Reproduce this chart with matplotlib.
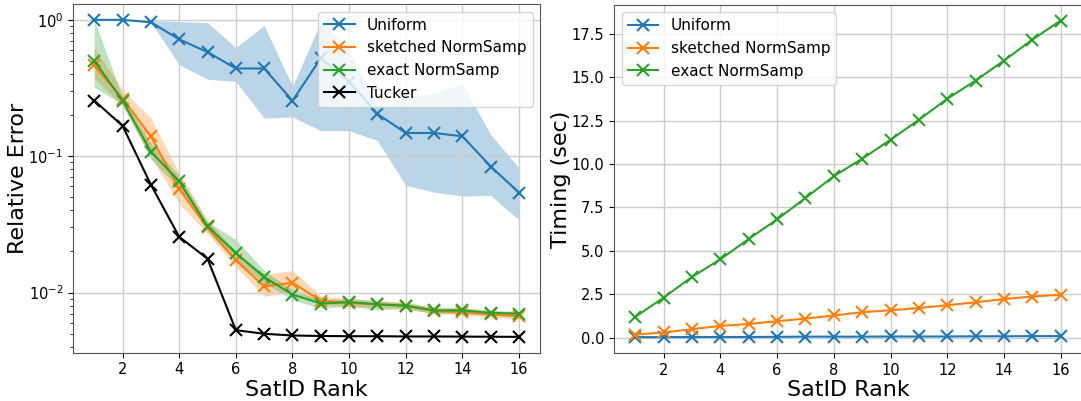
import numpy as np
import matplotlib
matplotlib.use('Agg')
import matplotlib.pyplot as plt

rank = np.arange(1, 17)

# relative error (left panel), mean and band
uniform_err = [1.0, 1.0, 0.96, 0.72, 0.58, 0.44, 0.44, 0.255, 0.524, 0.353, 0.204, 0.148, 0.148, 0.14, 0.084, 0.054]
uniform_lo = [1.0, 1.0, 0.96, 0.468, 0.367, 0.353, 0.19, 0.194, 0.154, 0.154, 0.13, 0.061, 0.0545, 0.051, 0.0515, 0.034]
uniform_hi = [1.0, 1.0, 0.99, 0.97, 0.955, 0.627, 0.91, 0.325, 0.97, 0.6, 0.235, 0.265, 0.29, 0.34, 0.144, 0.082]

sketched_err = [0.463, 0.264, 0.14, 0.0575, 0.030, 0.0172, 0.0111, 0.0118, 0.00873, 0.0084, 0.00817, 0.0080, 0.0073, 0.00718, 0.0069, 0.0067]
sketched_lo = [0.374, 0.232, 0.099, 0.045, 0.027, 0.0155, 0.0094, 0.0100, 0.0082, 0.0079, 0.0078, 0.0076, 0.0070, 0.0069, 0.0066, 0.0064]
sketched_hi = [0.62, 0.307, 0.19, 0.075, 0.034, 0.020, 0.0136, 0.0145, 0.0094, 0.0090, 0.0087, 0.0085, 0.0077, 0.0076, 0.0072, 0.0070]

exact_err = [0.503, 0.255, 0.108, 0.0654, 0.0306, 0.0195, 0.0130, 0.00967, 0.0083, 0.0085, 0.0082, 0.0080, 0.0074, 0.0074, 0.0071, 0.0070]
exact_lo = [0.32, 0.24, 0.095, 0.058, 0.028, 0.0169, 0.0118, 0.0088, 0.0077, 0.0079, 0.0075, 0.0076, 0.0070, 0.0070, 0.0068, 0.0067]
exact_hi = [1.0, 0.27, 0.125, 0.072, 0.033, 0.0245, 0.0145, 0.0105, 0.0088, 0.0091, 0.0087, 0.0084, 0.0078, 0.0078, 0.0074, 0.0073]

tucker_err = [0.256, 0.167, 0.0618, 0.0256, 0.0177, 0.0053, 0.00498, 0.00484, 0.0048, 0.00478, 0.00478, 0.00476, 0.00476, 0.00475, 0.00474, 0.00473]

# timing (right panel)
uniform_time = [0.02, 0.02, 0.03, 0.03, 0.03, 0.04, 0.05, 0.05, 0.05, 0.06, 0.06, 0.06, 0.07, 0.07, 0.08, 0.08]
sketched_time = [0.17, 0.29, 0.48, 0.67, 0.78, 0.94, 1.09, 1.27, 1.46, 1.57, 1.70, 1.86, 2.03, 2.22, 2.36, 2.47]
exact_time = [1.19, 2.30, 3.49, 4.51, 5.68, 6.81, 8.04, 9.30, 10.3, 11.4, 12.55, 13.76, 14.81, 15.96, 17.17, 18.27]

W, H = 1081, 401
fig = plt.figure(figsize=(W / 100, H / 100), dpi=100)

def px_axes(x0, x1, y0, y1):
    return fig.add_axes([x0 / W, 1 - y1 / H, (x1 - x0) / W, (y1 - y0) / H])

mk = dict(marker='x', markersize=8, markeredgewidth=1.5, linewidth=1.5)

# left: relative error
ax1 = px_axes(73, 540.3, 4, 352.7)
ax1.plot(rank, uniform_err, color='C0', label='Uniform', **mk)
ax1.fill_between(rank, uniform_lo, uniform_hi, color='C0', alpha=0.3, linewidth=0)
ax1.plot(rank, sketched_err, color='C1', label='sketched NormSamp', **mk)
ax1.fill_between(rank, sketched_lo, sketched_hi, color='C1', alpha=0.3, linewidth=0)
ax1.plot(rank, exact_err, color='C2', label='exact NormSamp', **mk)
ax1.fill_between(rank, exact_lo, exact_hi, color='C2', alpha=0.3, linewidth=0)
ax1.plot(rank, tucker_err, color='k', label='Tucker', **mk)
ax1.set_yscale('log')
ax1.set_xticks([2, 4, 6, 8, 10, 12, 14, 16])
ax1.grid(True, color='#cccccc', linewidth=1)
ax1.set_xlabel('SatID Rank', fontsize=16, labelpad=2)
ax1.set_ylabel('Relative Error', fontsize=16, labelpad=0)
ax1.tick_params(labelsize=10.5)
ax1.legend(loc='upper right', fontsize=11)

# right: timing
ax2 = px_axes(614, 1082, 4.7, 353)
ax2.plot(rank, uniform_time, color='C0', label='Uniform', **mk)
ax2.plot(rank, sketched_time, color='C1', label='sketched NormSamp', **mk)
ax2.plot(rank, exact_time, color='C2', label='exact NormSamp', **mk)
ax2.set_xticks([2, 4, 6, 8, 10, 12, 14, 16])
ax2.grid(True, color='#cccccc', linewidth=1)
ax2.set_xlabel('SatID Rank', fontsize=16, labelpad=2)
ax2.set_ylabel('Timing (sec)', fontsize=16, labelpad=0.5)
ax2.tick_params(labelsize=10.5)
ax2.legend(loc='upper left', fontsize=11)

for ax in (ax1, ax2):
    for s in ax.spines.values():
        s.set_color('#555555')

fig.savefig('out.png', dpi=100)
